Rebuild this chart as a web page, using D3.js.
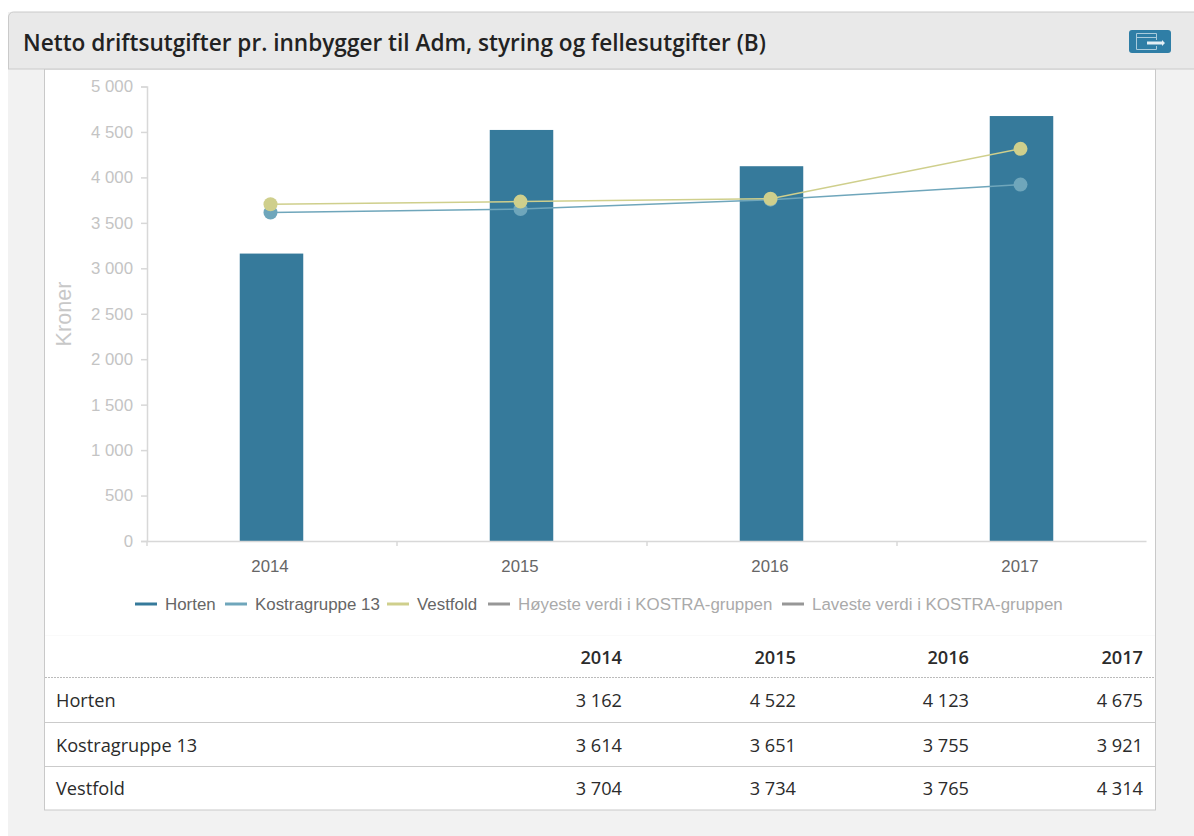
<!DOCTYPE html>
<html>
<head>
<meta charset="utf-8">
<script src="https://d3js.org/d3.v7.min.js"></script>
<style>
html, body { margin: 0; padding: 0; background: #fff; }
svg { display: block; }
.chart-text { font-family: "Liberation Sans", Arial, sans-serif; }
.page-text { font-family: "Open Sans", sans-serif; }
</style>
</head>
<body>
<div id="chart"></div>
<script>
// values
var years = ["2014", "2015", "2016", "2017"];
var horten = [3162, 4522, 4123, 4675];
var kostra = [3614, 3651, 3755, 3921];
var vestfold = [3704, 3734, 3765, 4314];
var yTicks = [0, 500, 1000, 1500, 2000, 2500, 3000, 3500, 4000, 4500, 5000];
var legendNames = ["Horten", "Kostragruppe 13", "Vestfold", "Høyeste verdi i KOSTRA-gruppen", "Laveste verdi i KOSTRA-gruppen"];
var rowNames = ["Horten", "Kostragruppe 13", "Vestfold"];
var rowValues = [horten, kostra, vestfold];

var titleText = "Netto driftsutgifter pr. innbygger til Adm, styring og fellesutgifter (B)";

var colors = { horten: "#367a9b", kostra: "#6fa6bb", vestfold: "#cfcf8c", off: "#979797" };

var width = 1194, height = 836;
var margin = { top: 86.5, right: 47, bottom: 295, left: 147 };

// thousands separated by a space like in the original
function fmt(n) {
    return d3.format(",")(n).replace(/,/g, " ");
}

var svg = d3.select("#chart").append("svg")
    .attr("width", width)
    .attr("height", height);

// page background, panel and header
svg.append("rect").attr("x", 8).attr("y", 12).attr("width", width - 8).attr("height", height - 12).attr("fill", "#f2f2f2");
svg.append("rect").attr("x", 44.5).attr("y", 69).attr("width", 1111).attr("height", 741)
    .attr("fill", "#fff").attr("stroke", "#c9c9c9");
svg.append("path").attr("d", "M8.5,69V17a5,5 0 0 1 5,-5H1194V69Z")
    .attr("fill", "#e9e9e9");
svg.append("path").attr("d", "M8.5,69V17a5,5 0 0 1 5,-5H1194M8,69H1194")
    .attr("fill", "none").attr("stroke", "#cacaca");
svg.append("text").attr("class", "page-text")
    .attr("x", 23).attr("y", 51)
    .attr("font-size", 22.6).attr("font-weight", 600).attr("fill", "#222")
    .text(titleText);

// export button
var btn = svg.append("g").attr("transform", "translate(1129,30)");
btn.append("rect").attr("width", 42).attr("height", 23).attr("rx", 3).attr("fill", "#2f7ea6");
btn.append("path").attr("d", "M27.5,10V3.5H7.5V19.5H27.5V16M7.5,7.5H27.5")
    .attr("fill", "none").attr("stroke", "#a9cbdc").attr("stroke-width", 1);
btn.append("path").attr("d", "M18,11.5H33V10L36,13L33,16V14.5H18Z").attr("fill", "#e4eff5");

// scales
var x = d3.scaleBand()
    .domain(years)
    .range([margin.left, width - margin.right]);

var y = d3.scaleLinear()
    .domain([0, 5000])
    .range([height - margin.bottom, margin.top]);

// bars
var barWidth = 63.5;
svg.selectAll("rect.bar")
    .data(horten)
  .enter().append("rect")
    .attr("class", "bar")
    .attr("x", function(d, i) { return x(years[i]) + x.bandwidth() / 2 - barWidth / 2 - 0.5; })
    .attr("y", function(d) { return y(d); })
    .attr("width", barWidth)
    .attr("height", function(d) { return y(0) - y(d); })
    .attr("fill", colors.horten);

// y axis
var yAxis = d3.axisLeft(y)
    .tickValues(yTicks)
    .tickFormat(fmt)
    .tickSize(6)
    .tickPadding(8);

var yG = svg.append("g")
    .attr("class", "chart-text")
    .attr("transform", "translate(" + margin.left + ",0)")
    .call(yAxis);
yG.selectAll("path,line").attr("stroke", "#d8d8d8").attr("stroke-width", 1.5);
yG.selectAll("text").attr("fill", "#c4c4c4").attr("font-size", 16.8).attr("font-family", "Liberation Sans");

// x axis, ticks sit between the categories
var xAxis = d3.axisBottom(x)
    .tickSize(0)
    .tickPadding(19);

var xG = svg.append("g")
    .attr("class", "chart-text")
    .attr("transform", "translate(-1," + y(0) + ")")
    .call(xAxis);
xG.select("path").attr("stroke", "#d8d8d8").attr("stroke-width", 1.5);
xG.selectAll("text").attr("dx", -1).attr("fill", "#666").attr("font-size", 16.8).attr("font-family", "Liberation Sans");

svg.selectAll("line.xtick")
    .data(years)
  .enter().append("line")
    .attr("class", "xtick")
    .attr("x1", function(d) { return x(d); })
    .attr("x2", function(d) { return x(d); })
    .attr("y1", y(0))
    .attr("y2", y(0) + 5)
    .attr("stroke", "#d8d8d8")
    .attr("stroke-width", 1.5);

svg.append("text").attr("class", "chart-text")
    .attr("transform", "translate(71,314) rotate(-90)")
    .attr("text-anchor", "middle")
    .attr("font-size", 21.6)
    .attr("fill", "#c8c8c8")
    .text("Kroner");

// lines and points
function pointX(d, i) {
    return x(years[i]) + x.bandwidth() / 2 - 1.5;
}

var line = d3.line()
    .x(pointX)
    .y(function(d) { return y(d); });

[[kostra, colors.kostra], [vestfold, colors.vestfold]].forEach(function(s) {
    svg.append("path")
        .datum(s[0])
        .attr("d", line)
        .attr("fill", "none")
        .attr("stroke", s[1])
        .attr("stroke-width", 1.5);
    svg.selectAll(null)
        .data(s[0])
      .enter().append("circle")
        .attr("cx", pointX)
        .attr("cy", function(d) { return y(d); })
        .attr("r", 7)
        .attr("fill", s[1]);
});

// legend
var legendX = [135, 225, 387, 488, 782];
var legendColors = [colors.horten, colors.kostra, colors.vestfold, colors.off, colors.off];
var legendText = ["#666", "#666", "#666", "#aaa", "#aaa"];
var legend = svg.selectAll("g.legend")
    .data(legendNames)
  .enter().append("g")
    .attr("class", "legend chart-text")
    .attr("transform", function(d, i) { return "translate(" + legendX[i] + ",604)"; });
legend.append("line")
    .attr("x1", 0).attr("x2", 22)
    .attr("stroke", function(d, i) { return legendColors[i]; })
    .attr("stroke-width", 3);
legend.append("text")
    .attr("x", 30)
    .attr("y", 6)
    .attr("font-size", 16.9)
    .attr("fill", function(d, i) { return legendText[i]; })
    .text(function(d) { return d; });

// table under the chart
var colRight = [622, 796, 969, 1143];
var rowY = [707, 752, 795];
var tableG = svg.append("g").attr("class", "page-text").attr("font-size", 18.2).attr("fill", "#2b2b2b");

tableG.selectAll("text.head")
    .data(years)
  .enter().append("text")
    .attr("class", "head")
    .attr("x", function(d, i) { return colRight[i]; })
    .attr("y", 664)
    .attr("text-anchor", "end")
    .attr("font-weight", 600)
    .text(function(d) { return d; });

rowNames.forEach(function(name, r) {
    tableG.append("text")
        .attr("x", 56).attr("y", rowY[r])
        .text(name);
    tableG.selectAll(null)
        .data(rowValues[r])
      .enter().append("text")
        .attr("x", function(d, i) { return colRight[i]; })
        .attr("y", rowY[r])
        .attr("text-anchor", "end")
        .text(function(d) { return fmt(d); });
});

svg.append("line").attr("x1", 45).attr("x2", 1155).attr("y1", 677.5).attr("y2", 677.5)
    .attr("stroke", "#bbb").attr("stroke-dasharray", "2,1");
[722.5, 766.5].forEach(function(ly) {
    svg.append("line").attr("x1", 45).attr("x2", 1155).attr("y1", ly).attr("y2", ly)
        .attr("stroke", "#cbcbcb");
});
svg.append("line").attr("x1", 45).attr("x2", 1155).attr("y1", 635.5).attr("y2", 635.5)
    .attr("stroke", "#fafafa");
</script>
</body>
</html>
